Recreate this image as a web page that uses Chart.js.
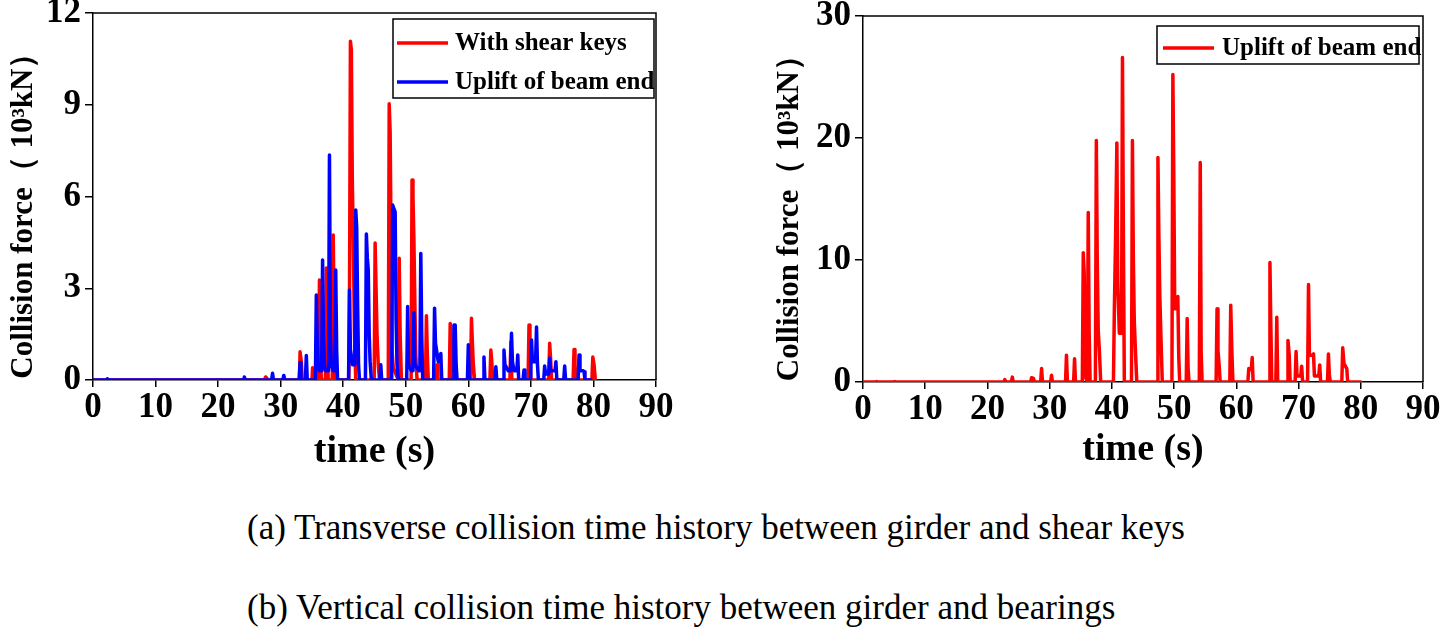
<!DOCTYPE html>
<html><head><meta charset="utf-8">
<script src="https://cdn.jsdelivr.net/npm/chart.js@4/dist/chart.umd.min.js"></script>
<style>
html,body{margin:0;padding:0;background:#fff;width:1440px;height:628px;overflow:hidden;position:relative;}
#w1{position:absolute;left:0;top:0;width:700px;height:480px;}
#w2{position:absolute;left:770px;top:0;width:670px;height:480px;}
.cap{position:absolute;left:247px;font-family:"Liberation Serif","Times New Roman",serif;font-size:35px;color:#000;white-space:nowrap;line-height:1;}
</style></head>
<body>
<div id="w1"><canvas id="c1" width="700" height="480"></canvas></div>
<div id="w2"><canvas id="c2" width="670" height="480"></canvas></div>
<div class="cap" id="capA" style="top:510px">(a) Transverse collision time history between girder and shear keys</div>
<div class="cap" id="capB" style="top:590px">(b) Vertical collision time history between girder and bearings</div>
<script>
// ---- DATA (time in s, collision force in 10^3 kN) ----
const xTickValues = [0,10,20,30,40,50,60,70,80,90];
const yTicksA = [0,3,6,9,12];
const yTicksB = [0,10,20,30];
const seriesLabelsA = ['With shear keys','Uplift of beam end'];
const seriesLabelsB = ['Uplift of beam end'];

const shearKeysA = [[0,0],[27.4,0],[27.6,0.1],[27.8,0.05],[28.0,0],
 [33.0,0],[33.1,0.92],[33.3,0.6],[33.45,0],[35.0,0],[35.1,0.4],[35.25,0],
 [36.05,0],[36.2,3.27],[36.35,1.0],[36.5,0],[37.15,0],[37.3,3.66],[37.45,1.2],[37.6,0],
 [38.25,0],[38.4,4.74],[38.55,2.0],[38.7,0],
 [40.9,0],[41.0,2.5],[41.15,11.08],[41.3,10.8],[41.45,6.6],[41.6,4.7],[41.8,1.5],[42.0,0],
 [44.95,0],[45.1,4.48],[45.25,3.0],[45.4,1.5],[45.6,0.5],[45.8,0],
 [47.2,0],[47.35,9.03],[47.5,8.1],[47.65,4.5],[47.8,1.0],[48.0,0.4],[48.8,0],[48.95,3.98],[49.1,1.5],[49.3,0],
 [50.85,0],[51.0,6.54],[51.15,6.0],[51.3,4.58],[51.45,2.5],[51.6,0.8],[51.8,0],
 [53.15,0],[53.3,2.1],[53.45,0.8],[53.6,0],[54.9,0],[55.0,0.5],[55.15,0],
 [56.95,0],[57.1,1.85],[57.3,1.2],[57.45,0],[60.35,0],[60.5,2.02],[60.65,1.2],[60.8,0.5],[61.0,0],
 [63.45,0],[63.6,0.98],[63.75,0.6],[63.9,0],[66.65,0],[66.8,1.25],[66.95,0],
 [69.55,0],[69.7,1.8],[69.85,1.0],[70.0,0],[72.85,0],[73.0,1.2],[73.15,0.7],[73.3,0],
 [76.75,0],[76.9,1.0],[77.05,0.5],[77.2,0],[79.75,0],[79.9,0.75],[80.1,0.5],[80.3,0]];

const upliftA = [[0,0],[2.2,0],[2.3,0.04],[2.4,0],[24.1,0],[24.2,0.1],[24.35,0],[28.55,0],[28.7,0.22],[28.85,0],
 [30.35,0],[30.5,0.15],[30.65,0],[32.95,0],[33.1,0.57],[33.25,0],[33.95,0],[34.1,0.8],[34.25,0],
 [35.55,0],[35.7,2.78],[35.85,1.2],[36.0,0.5],[36.2,0.3],[36.55,0.3],[36.7,3.92],[36.85,1.5],[37.0,0.5],
 [37.15,0.3],[37.65,0.3],[37.8,7.36],[37.95,1.5],[38.1,0.5],[38.4,0.3],[38.65,0.3],[38.8,3.6],[38.95,1.0],[39.1,0],
 [40.85,0],[41.0,2.94],[41.15,1.0],[41.5,0.5],[41.85,0.5],[42.0,5.56],[42.15,5.0],[42.3,2.5],[42.45,0.5],[42.6,0],
 [43.55,0],[43.7,4.77],[43.85,4.0],[44.0,3.6],[44.15,1.5],[44.3,0.6],[44.5,0],[45.85,0],[46.0,0.5],[46.15,0],
 [47.75,0],[47.9,5.72],[48.1,5.6],[48.3,5.5],[48.45,2.0],[48.6,0.5],[48.8,0],
 [50.15,0],[50.3,2.4],[50.45,0.5],[50.9,0.3],[51.15,0.3],[51.3,2.2],[51.45,0.5],[52.1,0.3],[52.25,0.3],
 [52.4,4.14],[52.55,1.5],[52.7,0],[54.45,0],[54.6,2.35],[54.75,1.2],[55.2,0.6],[55.45,0.6],[55.6,0.87],[55.75,0],
 [57.55,0],[57.7,1.8],[57.9,1.8],[58.05,0.5],[58.2,0],[59.85,0],[60.0,1.15],[60.15,0],
 [62.35,0],[62.5,0.75],[62.65,0],[64.25,0],[64.4,0.43],[64.55,0],
 [65.55,0],[65.7,0.98],[65.85,0.5],[66.4,0.3],[66.75,0.3],[66.9,1.53],[67.05,0.6],[67.3,0.3],[67.75,0.3],
 [67.9,0.82],[68.05,0],[68.75,0],[68.9,0.33],[69.05,0],
 [69.95,0],[70.1,1.31],[70.25,0.6],[70.75,0.6],[70.9,1.73],[71.05,0.5],[71.2,0],
 [72.05,0],[72.2,0.46],[72.35,0.2],[72.85,0.2],[73.0,0.72],[73.15,0.3],[73.85,0.3],[74.0,0.6],[74.15,0],
 [75.25,0],[75.4,0.46],[75.55,0],[77.55,0],[77.7,0.82],[77.85,0.3],[78.35,0.3],[78.5,0.27],[78.65,0],[79.6,0]];

const upliftB = [[0,0],[2.1,0],[2.2,0.05],[2.3,0],[5.0,0],[5.1,0.05],[5.2,0],[22.65,0],[22.8,0.2],[22.95,0],
 [23.85,0],[24.0,0.4],[24.15,0],[26.95,0],[27.1,0.35],[27.4,0.3],[27.55,0],[28.55,0],[28.7,1.1],[28.85,0],
 [30.15,0],[30.3,0.55],[30.45,0],[32.55,0],[32.7,2.2],[32.85,0],[33.85,0],[34.0,1.9],[34.15,0],
 [35.25,0],[35.4,10.6],[35.55,8.9],[35.7,0.5],[36.05,0],[36.2,13.9],[36.35,4.0],[36.5,0],
 [37.35,0],[37.5,19.8],[37.65,10.0],[37.8,4.3],[38.0,2.5],[38.2,0],
 [40.25,0],[40.4,6.1],[40.6,12.0],[40.8,19.6],[40.95,8.0],[41.2,4.0],[41.55,4.0],[41.7,26.6],[41.85,11.9],[42.0,0],
 [43.15,0],[43.3,19.8],[43.45,10.0],[43.6,5.0],[43.8,2.4],[44.0,0],
 [47.25,0],[47.4,18.4],[47.55,12.0],[47.7,7.1],[47.9,3.4],[48.1,0],
 [49.65,0],[49.8,25.2],[49.95,17.0],[50.1,6.0],[50.45,6.0],[50.6,7.0],[50.75,2.0],[50.9,0],
 [51.95,0],[52.1,5.2],[52.25,1.1],[52.4,0],[54.05,0],[54.2,18.0],[54.35,2.4],[54.5,0],
 [56.75,0],[56.9,6.0],[57.05,2.6],[57.25,1.3],[57.4,0],[58.95,0],[59.1,6.3],[59.3,2.2],[59.45,0],
 [61.85,0],[62.0,1.1],[62.4,1.0],[62.55,2.0],[62.7,0],
 [65.25,0],[65.4,9.8],[65.55,4.5],[65.7,0],[66.35,0],[66.5,5.3],[66.65,0],
 [68.15,0],[68.3,3.4],[68.5,2.2],[68.65,0],[69.45,0],[69.6,2.5],[69.75,0.5],[70.35,0.5],[70.5,1.3],[70.65,0],
 [71.45,0],[71.6,8.0],[71.75,2.2],[72.25,2.2],[72.4,2.3],[72.55,0.5],[73.25,0.5],[73.4,1.4],[73.55,0],
 [74.65,0],[74.8,2.3],[74.95,0.6],[75.1,0],[76.95,0],[77.1,2.8],[77.3,1.5],[77.75,1.1],[77.9,0],[80.0,0]];

// ---- RENDERING ----
const SERIF = '"Liberation Serif","Times New Roman",serif';
const RED = '#ff0000', BLUE = '#0000ff';
const toPts = arr => arr.map(p => ({x: p[0], y: p[1]}));

const framePlugin = {
  id: 'frame',
  afterDatasetsDraw(chart) {
    const {ctx, chartArea: a} = chart;
    ctx.save();
    ctx.strokeStyle = '#000'; ctx.lineWidth = 1.5;
    ctx.beginPath();
    ctx.moveTo(a.left, a.top); ctx.lineTo(a.right, a.top); ctx.lineTo(a.right, a.bottom);
    ctx.stroke();
    ctx.restore();
  },
  afterDraw(chart) {
    const o = chart.options.plugins.frame;
    if (!o) return;
    const {ctx} = chart;
    ctx.save();
    ctx.fillStyle = '#fff';
    ctx.fillRect(o.x, o.y, o.w, o.h);
    ctx.strokeStyle = '#000'; ctx.lineWidth = 1.5;
    ctx.strokeRect(o.x, o.y, o.w, o.h);
    ctx.font = 'bold ' + o.fontSize + 'px ' + SERIF;
    ctx.textBaseline = 'middle';
    chart.data.datasets.forEach((ds, i) => {
      const yy = o.rows[i];
      ctx.strokeStyle = ds.borderColor; ctx.lineWidth = 3.5;
      ctx.beginPath(); ctx.moveTo(o.lineX1, yy); ctx.lineTo(o.lineX2, yy); ctx.stroke();
      ctx.fillStyle = '#000';
      ctx.fillText(ds.label, o.textX, yy + 1);
    });
    ctx.restore();
  }
};

function makeChart(id, datasets, yMax, yTicks, lay) {
  return new Chart(document.getElementById(id), {
    type: 'line',
    data: {datasets},
    options: {
      responsive: false, animation: false, devicePixelRatio: 1,
      layout: {padding: {top: lay.top, right: lay.right, left: 0, bottom: 0}},
      elements: {line: {tension: 0, borderWidth: 3.5, borderJoinStyle: 'round', borderCapStyle: 'round'}, point: {radius: 0}},
      plugins: {legend: {display: false}, tooltip: {enabled: false}, frame: lay.legend},
      scales: {
        x: {
          type: 'linear', min: 0, max: 90,
          afterBuildTicks: s => { s.ticks = xTickValues.map(v => ({value: v})); },
          afterFit: s => { s.height = lay.xAxisH; s.paddingLeft = 0; s.paddingRight = 0; },
          ticks: {color: '#000', font: {family: SERIF, size: 35, weight: 'bold'}, padding: 0, maxRotation: 0, autoSkip: false},
          grid: {display: true, drawOnChartArea: false, drawTicks: true, tickLength: 7, color: '#000', lineWidth: 1.5},
          border: {display: true, color: '#000', width: 1.5},
          title: {display: true, text: 'time (s)', color: '#000', font: {family: SERIF, size: 38, weight: 'bold'}, padding: {top: 0, bottom: lay.xTitlePad}}
        },
        y: {
          type: 'linear', min: 0, max: yMax,
          afterBuildTicks: s => { s.ticks = yTicks.map(v => ({value: v})); },
          afterFit: s => { s.width = lay.yAxisW; s.paddingTop = 0; s.paddingBottom = 0; },
          ticks: {color: '#000', font: {family: SERIF, size: 35, weight: 'bold'}, padding: 4, autoSkip: false},
          grid: {display: true, drawOnChartArea: false, drawTicks: true, tickLength: 8, color: '#000', lineWidth: 1.5},
          border: {display: true, color: '#000', width: 1.5},
          title: {display: true, text: 'Collision force（ 10³kN）   ', color: '#000', font: {family: SERIF, size: 31, weight: 'bold'}, padding: {top: lay.yTitlePad, bottom: 0}}
        }
      }
    },
    plugins: [framePlugin]
  });
}

makeChart('c1', [
  {label: seriesLabelsA[0], data: toPts(shearKeysA), borderColor: RED, backgroundColor: RED, fill: false, order: 2},
  {label: seriesLabelsA[1], data: toPts(upliftA), borderColor: BLUE, backgroundColor: BLUE, fill: false, order: 1}
], 12, yTicksA, {top: 13, right: 44, xAxisH: 100, yAxisW: 93, xTitlePad: 5, yTitlePad: 5,
  legend: {x: 393, y: 19, w: 261, h: 79, rows: [43, 82], lineX1: 397, lineX2: 448, textX: 455, fontSize: 25}});

makeChart('c2', [
  {label: seriesLabelsB[0], data: toPts(upliftB), borderColor: RED, backgroundColor: RED, fill: false, order: 1}
], 30, yTicksB, {top: 16, right: 17, xAxisH: 98, yAxisW: 93, xTitlePad: 7, yTitlePad: 1,
  legend: {x: 387, y: 26, w: 262, h: 38, rows: [48], lineX1: 393, lineX2: 444, textX: 452, fontSize: 25}});
</script>
</body></html>
